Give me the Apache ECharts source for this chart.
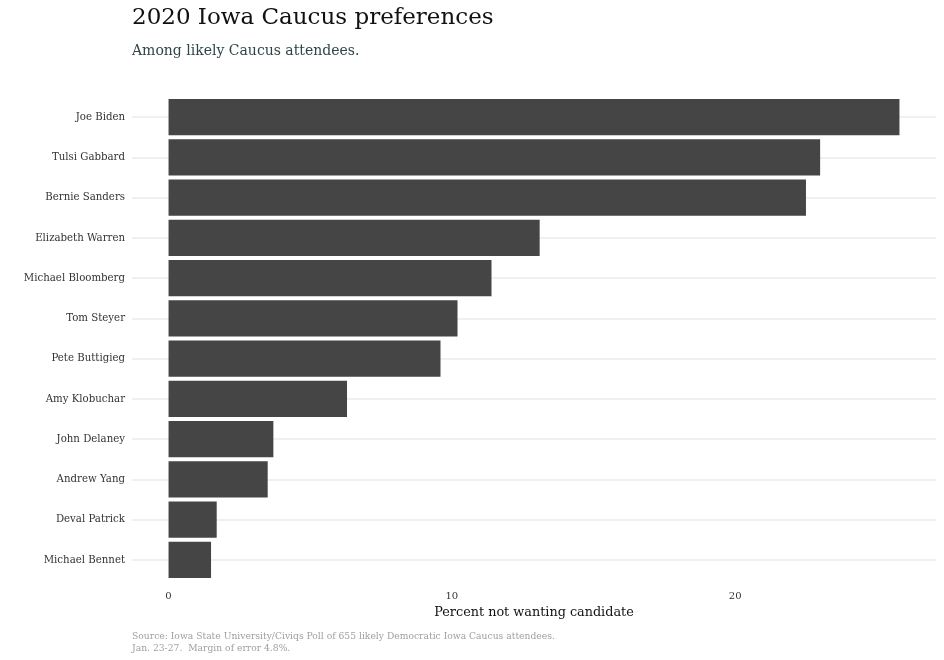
<!DOCTYPE html>
<html>
<head>
<meta charset="utf-8">
<script src="https://cdn.jsdelivr.net/npm/echarts@6/dist/echarts.min.js"></script>
<style>html,body{margin:0;padding:0;background:#fff}#c{width:944px;height:660px}</style>
</head>
<body>
<div id="c"></div>
<script>
const candidates = ["Joe Biden","Tulsi Gabbard","Bernie Sanders","Elizabeth Warren","Michael Bloomberg","Tom Steyer","Pete Buttigieg","Amy Klobuchar","John Delaney","Andrew Yang","Deval Patrick","Michael Bennet"];
const percentNotWanting = [25.8, 23.0, 22.5, 13.1, 11.4, 10.2, 9.6, 6.3, 3.7, 3.5, 1.7, 1.5];
const xTicks = [0, 10, 20];

const serif = "Georgia, 'DejaVu Serif', serif";
const chart = echarts.init(document.getElementById('c'));
chart.setOption({
  backgroundColor: '#fff',
  animation: false,
  title: [
    {text: '2020 Iowa Caucus preferences', left: 127, top: 2,
     textStyle: {fontFamily: serif, fontSize: 23, fontWeight: 'normal', color: '#111'}},
    {text: 'Among likely Caucus attendees.', left: 127, top: 39,
     textStyle: {fontFamily: serif, fontSize: 14, fontWeight: 'normal', color: '#2f4646'}},
    {text: 'Source: Iowa State University/Civiqs Poll of 655 likely Democratic Iowa Caucus attendees.\nJan. 23-27.  Margin of error 4.8%.',
     left: 127, top: 626,
     textStyle: {fontFamily: serif, fontSize: 9.2, fontWeight: 'normal', color: '#a0a0a0', lineHeight: 12}}
  ],
  grid: {left: 132, right: 8, top: 97, height: 483, containLabel: false},
  xAxis: {
    type: 'value', min: -1.29, max: 27.09,
    axisLine: {show: false}, axisTick: {show: false}, splitLine: {show: false},
    axisLabel: {customValues: xTicks, margin: 11, fontFamily: serif, fontSize: 10, color: '#333'},
    name: 'Percent not wanting candidate', nameLocation: 'middle', nameGap: 25,
    nameTextStyle: {fontFamily: serif, fontSize: 12.8, color: '#111'}
  },
  yAxis: {
    type: 'category', data: candidates, inverse: true,
    axisLine: {show: false}, axisTick: {show: false},
    splitLine: {show: false},
    axisLabel: {margin: 7, fontFamily: serif, fontSize: 10.2, color: '#333'}
  },
  series: [
    {
      type: 'line', data: [], z: 1, silent: true, symbol: 'none',
      markLine: {
        z: 1, silent: true, symbol: 'none', label: {show: false}, animation: false,
        lineStyle: {color: '#ebebeb', width: 1.5, type: 'solid'},
        data: candidates.map(c => ({yAxis: c}))
      }
    },
    {
      type: 'bar', data: percentNotWanting, barWidth: '90%',
      itemStyle: {color: '#454545'}, z: 3
    }
  ]
});
</script>
</body>
</html>
